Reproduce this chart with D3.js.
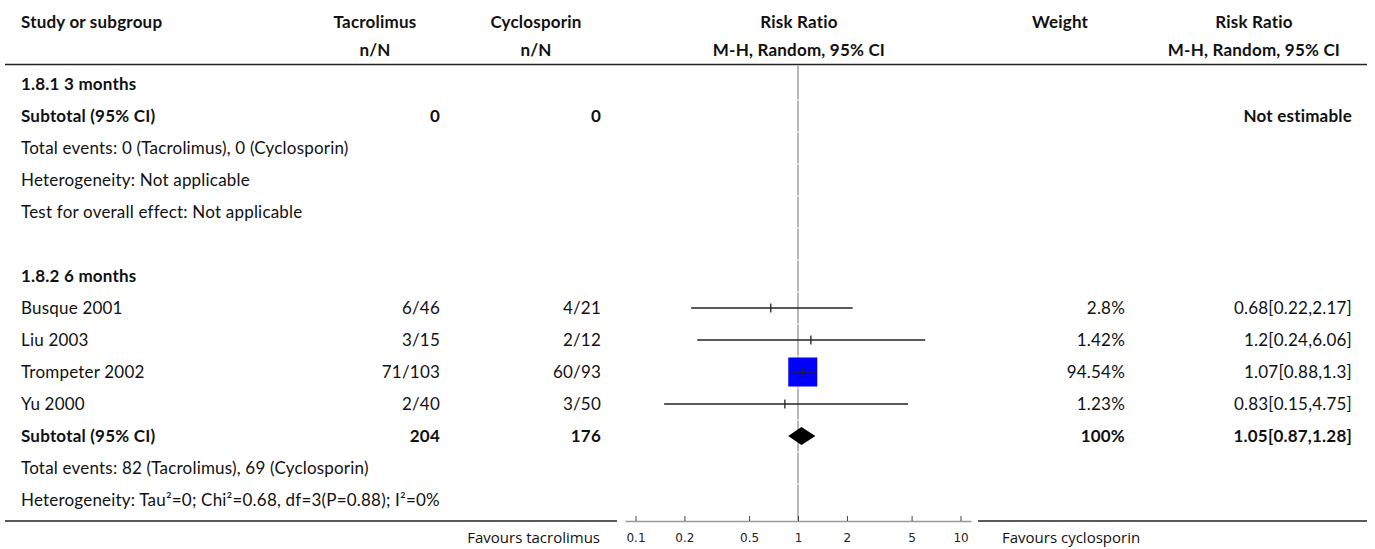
<!DOCTYPE html>
<html><head><meta charset="utf-8">
<script src="https://cdn.jsdelivr.net/npm/d3@7"></script>
<style>body{margin:0;background:#fff}svg{display:block}</style>
</head><body><svg id="c" width="1375" height="549"></svg>
<script>
// ---- data ----
const studies   = ["Busque 2001", "Liu 2003", "Trompeter 2002", "Yu 2000"];
const tacEvents = [6, 3, 71, 2];
const tacTotal  = [46, 15, 103, 40];
const cycEvents = [4, 2, 60, 3];
const cycTotal  = [21, 12, 93, 50];
const rr        = [0.68, 1.2, 1.07, 0.83];
const rrLo      = [0.22, 0.24, 0.88, 0.15];
const rrHi      = [2.17, 6.06, 1.3, 4.75];
const weights   = [2.8, 1.42, 94.54, 1.23];
const pooled    = [1.05, 0.87, 1.28];      // estimate, lower, upper
const pooledN   = [204, 176];
const sub1N     = [0, 0];
const tickValues = [0.1, 0.2, 0.5, 1, 2, 5, 10];
const tickLabels = ["0.1", "0.2", "0.5", "1", "2", "5", "10"];
const headers1 = ["Study or subgroup", "Tacrolimus", "Cyclosporin", "Risk Ratio", "Weight", "Risk Ratio"];
const headers2 = ["", "n/N", "n/N", "M-H, Random, 95% CI", "", "M-H, Random, 95% CI"];

// ---- layout ----
const svg = d3.select("#c");
const FONT = "Lato, 'Noto Sans', sans-serif";
const FS = 17;
const row = d3.scaleLinear().domain([0, 13]).range([84, 500]);
const x = d3.scaleLog().domain([0.0862, 11.6]).range([625, 971]);
const colLeft = 21, colTacR = 440, colCycR = 601, colWR = 1125, colRRR = 1352;
const hdrCenters = [null, 375, 536, 799, 1060, 1254];
const axisY = 521;

function txt(s, xx, yy, anchor, bold) {
  return svg.append("text").attr("x", xx).attr("y", yy + 6)
    .attr("text-anchor", anchor || "start")
    .attr("font-family", FONT).attr("font-size", FS)
    .attr("letter-spacing", 0.2)
    .attr("font-weight", bold ? 700 : 400).attr("fill", "#111").text(s);
}

// headers
headers1.forEach((h, i) => {
  if (i === 0) txt(h, colLeft, 22, "start", true);
  else txt(h, hdrCenters[i], 22, "middle", true);
});
headers2.forEach((h, i) => { if (h) txt(h, hdrCenters[i], 50, "middle", true); });
svg.append("line").attr("x1", 5).attr("x2", 1367).attr("y1", 64.5).attr("y2", 64.5)
  .attr("stroke", "#222").attr("stroke-width", 1.5);

// null line (segmented per row)
const bounds = [65].concat(d3.range(1, 14).map(i => row(i) - 16)).concat([axisY]);
for (let i = 0; i < bounds.length - 1; i++) {
  svg.append("line").attr("x1", x(1)).attr("x2", x(1))
    .attr("y1", bounds[i] + 0.5).attr("y2", bounds[i + 1] - 0.5)
    .attr("stroke", "#a0a0a0").attr("stroke-width", 1.5);
}

// subgroup 1
txt("1.8.1 3 months", colLeft, row(0), "start", true);
txt("Subtotal (95% CI)", colLeft, row(1), "start", true);
txt(String(sub1N[0]), colTacR, row(1), "end", true);
txt(String(sub1N[1]), colCycR, row(1), "end", true);
txt("Not estimable", colRRR, row(1), "end", true);
txt("Total events: 0 (Tacrolimus), 0 (Cyclosporin)", colLeft, row(2));
txt("Heterogeneity: Not applicable", colLeft, row(3));
txt("Test for overall effect: Not applicable", colLeft, row(4));

// subgroup 2
txt("1.8.2 6 months", colLeft, row(6), "start", true);
const sq = d3.scaleLinear().domain([0, 94.54]).range([0, 29]);
studies.forEach((s, i) => {
  const cy = row(7 + i);
  txt(s, colLeft, cy);
  txt(tacEvents[i] + "/" + tacTotal[i], colTacR, cy, "end");
  txt(cycEvents[i] + "/" + cycTotal[i], colCycR, cy, "end");
  txt(weights[i] + "%", colWR, cy, "end");
  txt(rr[i] + "[" + rrLo[i] + "," + rrHi[i] + "]", colRRR, cy, "end");
  const side = sq(weights[i]);
  svg.append("rect").attr("x", x(rr[i]) - side / 2).attr("y", cy - side / 2)
    .attr("width", side).attr("height", side).attr("fill", "#0000ff");
  svg.append("line").attr("x1", x(rrLo[i])).attr("x2", x(rrHi[i]))
    .attr("y1", cy).attr("y2", cy).attr("stroke", "#222").attr("stroke-width", 1.3);
  svg.append("line").attr("x1", x(rr[i])).attr("x2", x(rr[i]))
    .attr("y1", cy - 4.5).attr("y2", cy + 4.5).attr("stroke", "#222").attr("stroke-width", 1.3);
});
const cyS = row(11);
txt("Subtotal (95% CI)", colLeft, cyS, "start", true);
txt(String(pooledN[0]), colTacR, cyS, "end", true);
txt(String(pooledN[1]), colCycR, cyS, "end", true);
txt("100%", colWR, cyS, "end", true);
txt(pooled[0] + "[" + pooled[1] + "," + pooled[2] + "]", colRRR, cyS, "end", true);
svg.append("path").attr("fill", "#000").attr("d",
  `M${x(pooled[1])},${cyS} L${x(pooled[0])},${cyS - 9} L${x(pooled[2])},${cyS} L${x(pooled[0])},${cyS + 9} Z`);
txt("Total events: 82 (Tacrolimus), 69 (Cyclosporin)", colLeft, row(12));
txt("Heterogeneity: Tau\u00B2=0; Chi\u00B2=0.68, df=3(P=0.88); I\u00B2=0%", colLeft, row(13));

// bottom rule and axis
svg.append("line").attr("x1", 5).attr("x2", 617).attr("y1", axisY).attr("y2", axisY)
  .attr("stroke", "#222").attr("stroke-width", 1.5);
svg.append("line").attr("x1", 978).attr("x2", 1367).attr("y1", axisY).attr("y2", axisY)
  .attr("stroke", "#222").attr("stroke-width", 1.5);
const axis = d3.axisBottom(x).tickValues(tickValues)
  .tickFormat((d, i) => tickLabels[i]).tickSizeInner(-5).tickSizeOuter(0).tickPadding(12);
const ag = svg.append("g").attr("transform", `translate(0,${axisY})`).call(axis);
ag.select(".domain").attr("stroke", "#999").attr("stroke-width", 1.5);
ag.selectAll(".tick line").attr("stroke", "#444");
ag.selectAll(".tick text").attr("font-family", "'DejaVu Sans', sans-serif")
  .attr("font-size", 12).attr("fill", "#222");

svg.append("text").attr("x", 600).attr("y", 543).attr("text-anchor", "end")
  .attr("font-family", "'Open Sans', sans-serif").attr("font-size", 15).attr("fill", "#111")
  .text("Favours tacrolimus");
svg.append("text").attr("x", 1002).attr("y", 543).attr("text-anchor", "start")
  .attr("font-family", "'Open Sans', sans-serif").attr("font-size", 15).attr("fill", "#111")
  .text("Favours cyclosporin");
</script></body></html>
